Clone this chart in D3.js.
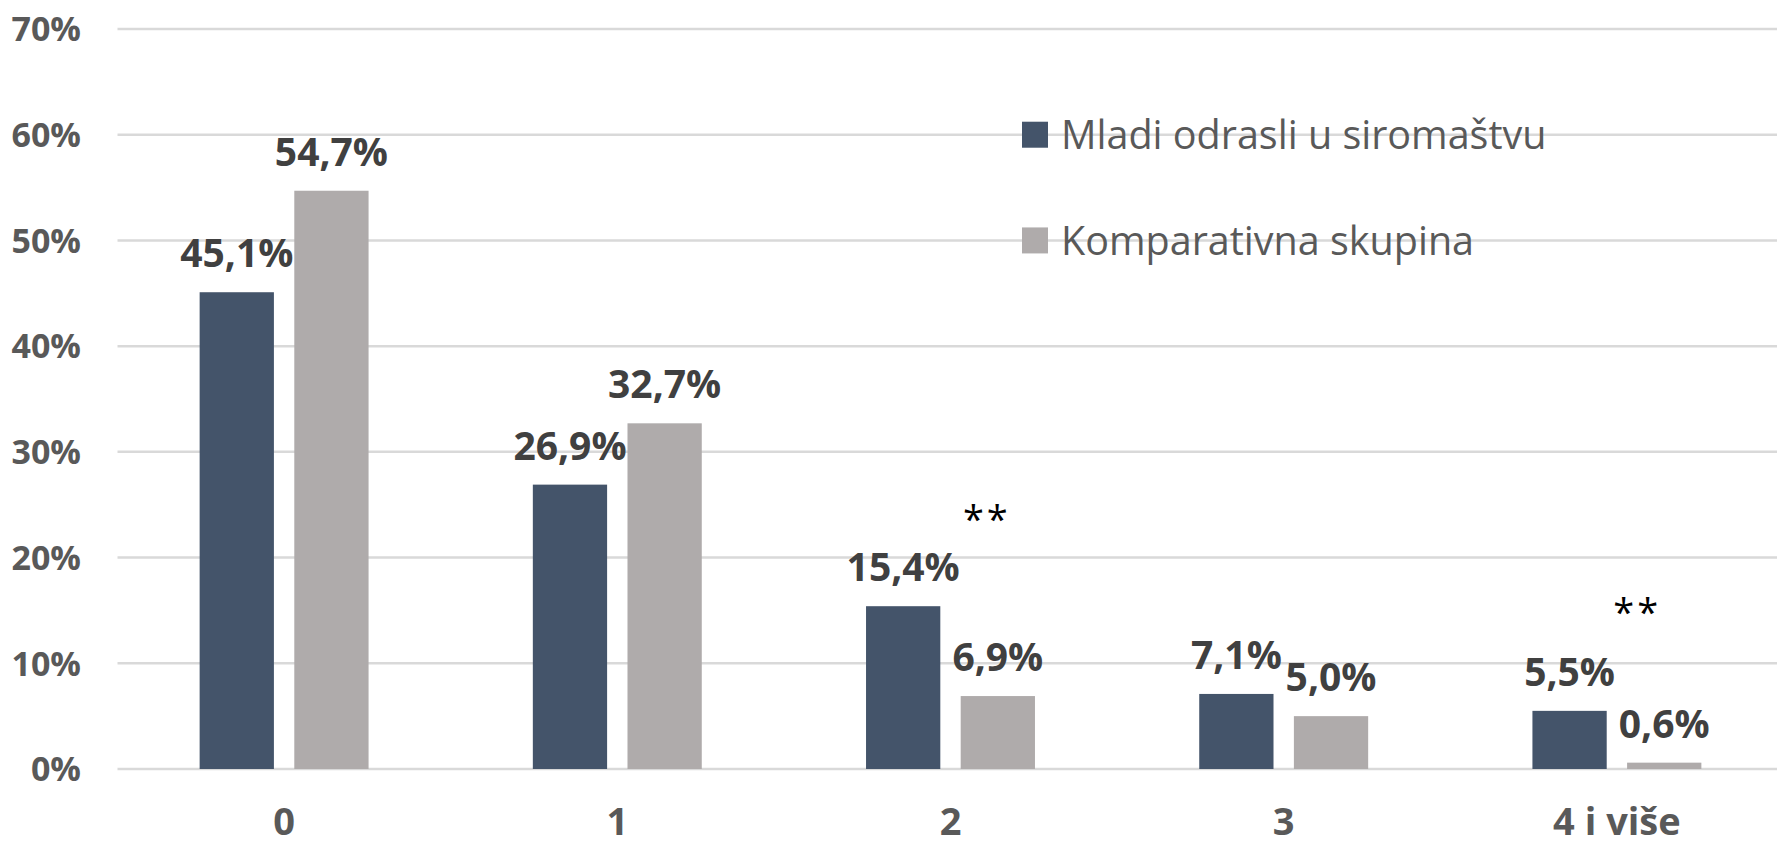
<!DOCTYPE html>
<html>
<head>
<meta charset="utf-8">
<script src="https://cdn.jsdelivr.net/npm/d3@7"></script>
<style>
    html, body { margin: 0; padding: 0; background: #fff; }
    svg { display: block; font-family: "Open Sans", "Noto Sans", sans-serif; }
</style>
</head>
<body>
<div id="chart"></div>
<script>
const categories = ['0', '1', '2', '3', '4 i više'];
const seriesNames = ['Mladi odrasli u siromaštvu', 'Komparativna skupina'];
const mladi = [45.1, 26.9, 15.4, 7.1, 5.5];
const komparativna = [54.7, 32.7, 6.9, 5.0, 0.6];
const yTicks = [0, 10, 20, 30, 40, 50, 60, 70];
// significance marks drawn above the comparison bar
const marks = [
    {category: '2', text: '**', level: 24.3},
    {category: '4 i više', text: '**', level: 15.5}
];

const config = {
    width: 1777,
    height: 845,
    left: 117.5,
    right: 1783.5,
    top: 29,
    bottom: 769,
    colors: ['#44546a', '#afabab'],
    grid: '#d9d9d9',
    axisText: '#595959',
    labelText: '#404040'
};
// horizontal nudge of each significance mark from its bar centre
const markShift = [-11, -27];

const svg = d3.select('#chart')
    .append('svg')
    .attr('width', config.width)
    .attr('height', config.height);

const y = d3.scaleLinear()
    .domain([0, 70])
    .range([config.bottom, config.top]);

const x0 = d3.scaleBand()
    .domain(categories)
    .range([config.left, config.right])
    .paddingInner(0.493)
    .paddingOuter(0.2465);

const x1 = d3.scaleBand()
    .domain(seriesNames)
    .range([0, x0.bandwidth()])
    .paddingInner(0.2154);

const fmt = v => d3.format('.1f')(v).replace('.', ',') + '%';

// gridlines
svg.append('g')
    .selectAll('line')
    .data(yTicks)
    .join('line')
    .attr('x1', config.left)
    .attr('x2', config.right)
    .attr('y1', d => y(d))
    .attr('y2', d => y(d))
    .attr('stroke', config.grid)
    .attr('stroke-width', 2.5);

// y axis labels
svg.append('g')
    .selectAll('text')
    .data(yTicks)
    .join('text')
    .attr('x', 81)
    .attr('y', d => y(d))
    .attr('dy', '0.36em')
    .attr('text-anchor', 'end')
    .attr('font-size', 34)
    .attr('font-weight', 700)
    .attr('fill', config.axisText)
    .text(d => d + '%');

// category labels
svg.append('g')
    .selectAll('text')
    .data(categories)
    .join('text')
    .attr('x', d => x0(d) + x0.bandwidth() / 2)
    .attr('y', 835)
    .attr('text-anchor', 'middle')
    .attr('font-size', 38)
    .attr('font-weight', 700)
    .attr('fill', config.axisText)
    .text(d => d);

const series = [mladi, komparativna];
const rows = [];
series.forEach((values, s) => {
    values.forEach((v, i) => {
        rows.push({category: categories[i], series: seriesNames[s], s: s, value: v});
    });
});

// bars
svg.append('g')
    .selectAll('rect')
    .data(rows)
    .join('rect')
    .attr('x', d => x0(d.category) + x1(d.series))
    .attr('y', d => y(d.value))
    .attr('width', x1.bandwidth())
    .attr('height', d => y(0) - y(d.value))
    .attr('fill', d => config.colors[d.s]);

// value labels
svg.append('g')
    .selectAll('text')
    .data(rows)
    .join('text')
    .attr('x', d => x0(d.category) + x1(d.series) + x1.bandwidth() / 2)
    .attr('y', d => y(d.value) - 25)
    .attr('text-anchor', 'middle')
    .attr('font-size', 39)
    .attr('font-weight', 700)
    .attr('fill', config.labelText)
    .text(d => fmt(d.value));

// significance marks
svg.append('g')
    .selectAll('text')
    .data(marks)
    .join('text')
    .attr('x', (d, i) => x0(d.category) + x1(seriesNames[1]) + x1.bandwidth() / 2 + markShift[i])
    .attr('y', d => y(d.level))
    .attr('dy', '0.55em')
    .attr('text-anchor', 'middle')
    .attr('font-size', 38)
    .attr('letter-spacing', 3)
    .attr('fill', '#000')
    .text(d => d.text);

// legend
const legend = svg.append('g')
    .selectAll('g')
    .data(seriesNames)
    .join('g')
    .attr('transform', (d, i) => `translate(1022, ${y(60 - i * 10)})`);

legend.append('rect')
    .attr('x', 0)
    .attr('y', -13)
    .attr('width', 26)
    .attr('height', 26)
    .attr('fill', (d, i) => config.colors[i]);

legend.append('text')
    .attr('x', 39)
    .attr('y', 0)
    .attr('dy', '0.36em')
    .attr('font-size', 39.5)
    .attr('fill', config.axisText)
    .text(d => d);
</script>
</body>
</html>
